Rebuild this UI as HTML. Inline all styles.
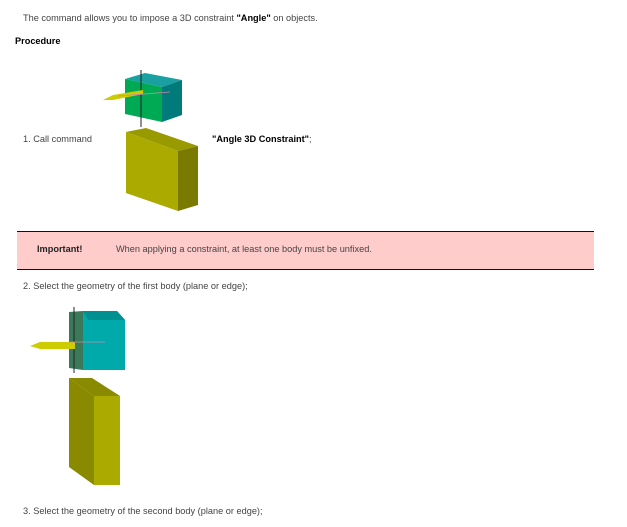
<!DOCTYPE html>
<html><head><style>
body{margin:0;width:627px;height:527px;background:#fff;position:relative;font-family:"Liberation Sans",sans-serif;font-size:9.2px;color:#444;overflow:hidden}
.t{position:absolute;white-space:nowrap}
b{color:#000}
</style></head><body>
<div class="t" style="left:23px;top:13px">The command allows you to impose a 3D constraint <b>"Angle"</b> on objects.</div>
<div class="t" style="left:15px;top:36px;font-weight:bold;color:#000">Procedure</div>
<div class="t" style="left:23px;top:134px">1. Call command</div>
<div class="t" style="left:212px;top:134px"><b>"Angle 3D Constraint"</b>;</div>

<svg style="position:absolute;left:0;top:0" width="627" height="527">
 <polygon points="125,79 145,73 182,80 162,87" fill="#1aa0a0"/>
 <polygon points="125,79 162,87 162,122 125,114" fill="#00aa55"/>
 <polygon points="162,87 182,80 182,115 162,122" fill="#007a7a"/>
 <line x1="141" y1="70" x2="141" y2="127" stroke="#222" stroke-width="1"/>
 <polygon points="103,100 113,95 143,90 143,94 113,100" fill="#cccc00"/>
 <line x1="118" y1="96" x2="170" y2="92" stroke="#c8a" stroke-width="0.8"/>
 <polygon points="126,132 146,128 198,146 178,151" fill="#999900"/>
 <polygon points="126,132 178,151 178,211 126,193" fill="#aaaa00"/>
 <polygon points="178,151 198,146 198,205 178,211" fill="#7a7a00"/>
 <polygon points="69,312 83,311 83,370 69,368" fill="#3a7a5a"/>
 <polygon points="83,311 117,311 125,320 125,370 83,370" fill="#00aaaa"/>
 <polygon points="83,311 117,311 125,320 88,320" fill="#009090"/>
 <line x1="74" y1="307" x2="74" y2="373" stroke="#222" stroke-width="1"/>
 <polygon points="30,346 40,342 75,342 75,349 40,349" fill="#cccc00"/>
 <line x1="70" y1="342" x2="105" y2="342" stroke="#c8a" stroke-width="0.8"/>
 <polygon points="69,378 92,378 120,396 94,396" fill="#8a8a00"/>
 <polygon points="69,378 94,396 94,485 69,467" fill="#8a8a00"/>
 <polygon points="94,396 120,396 120,485 94,485" fill="#aaaa00"/>
</svg>

<div style="position:absolute;left:17px;top:231px;width:577px;height:37px;background:#ffcccc;border-top:1.5px solid #111;border-bottom:1.5px solid #111"></div>
<div class="t" style="left:37px;top:244px;font-weight:bold;color:#222">Important!</div>
<div class="t" style="left:116px;top:244px">When applying a constraint, at least one body must be unfixed.</div>
<div class="t" style="left:23px;top:281px">2. Select the geometry of the first body (plane or edge);</div>
<div class="t" style="left:23px;top:506px">3. Select the geometry of the second body (plane or edge);</div>
</body></html>
